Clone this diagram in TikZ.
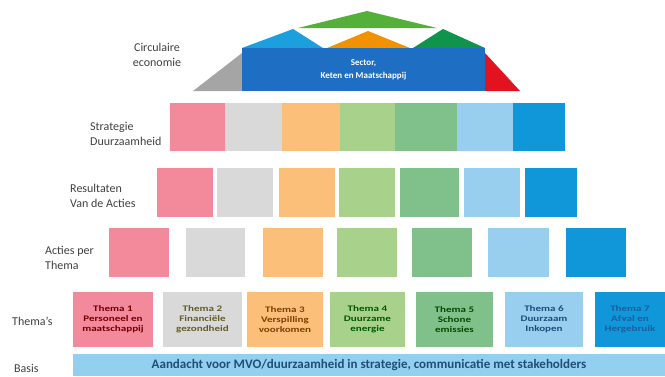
\documentclass[tikz,border=0pt]{standalone}
\usepackage{fontspec}
\setmainfont{Carlito}
\newfontfamily\themafont[FakeStretch=1.3]{Carlito}
\usetikzlibrary{positioning}
\definecolor{hpink}{HTML}{F38A9C}
\definecolor{hgray}{HTML}{D9D9D9}
\definecolor{horange}{HTML}{FBBF7A}
\definecolor{hlgreen}{HTML}{A8D18C}
\definecolor{hgreen}{HTML}{80C08A}
\definecolor{hlblue}{HTML}{98CFEE}
\definecolor{hblue}{HTML}{0F97DA}
\definecolor{hbasis}{HTML}{93CFEE}
\definecolor{hbasistext}{HTML}{1F4E79}
\definecolor{hthemaseven}{HTML}{1C5E9E}
\definecolor{hlabel}{HTML}{404040}
\definecolor{roofgray}{HTML}{A5A5A5}
\definecolor{roofblue}{HTML}{1E6FC4}
\definecolor{roofcyan}{HTML}{1BA0DD}
\definecolor{rooforange}{HTML}{F39200}
\definecolor{roofgreen}{HTML}{55B03A}
\definecolor{roofdgreen}{HTML}{10934A}
\definecolor{roofred}{HTML}{E2131E}
\tikzstyle{rowlabel}=[align=left,anchor=west,text=hlabel,inner sep=0pt,
  font=\fontsize{12}{15}\selectfont]
\tikzstyle{rowbox}=[inner sep=0pt,draw=none]
\tikzstyle{themabox}=[inner sep=0pt,align=center,
  font=\themafont\bfseries\fontsize{8.5}{10}\selectfont]
\tikzstyle{basisbar}=[fill=hbasis,inner sep=0pt,text=hbasistext,
  font=\bfseries\fontsize{13}{15}\selectfont]

\begin{document}
\begin{tikzpicture}[x=1pt,y=-1pt]
    \useasboundingbox (0,0) rectangle (665,376);

    % ---- roof: circulaire economie ----
    \fill[roofgreen]  (298,28) -- (367,11) -- (437,28) -- cycle;
    \fill[roofcyan]   (242,48) -- (293,29) -- (323,48) -- cycle;
    \fill[rooforange] (327,48) -- (368,31) -- (410,48) -- cycle;
    \fill[roofdgreen] (413,48) -- (443,29) -- (485,48) -- cycle;
    \fill[roofgray]   (193,91) -- (242,53) -- (242,91) -- cycle;
    \fill[roofred]    (485,53) -- (520,91) -- (485,91) -- cycle;
    \node[fill=roofblue,inner sep=0pt,minimum width=243,minimum height=43,
          text=white,align=center,font=\bfseries\fontsize{9}{13}\selectfont]
          (sector) at (363.5,69.5) {Sector,\\Keten en Maatschappij};
    \node[rowlabel,anchor=center,align=center] (circ) at (157,55) {Circulaire\\economie};

    % ---- strategie duurzaamheid ----
    \node[rowlabel] (lstrat) at (90,134) {Strategie\\Duurzaamheid};
    \foreach \n/\l/\r/\c in {1/170/225/hpink,2/225/282/hgray,3/282/340/horange,
        4/340/395/hlgreen,5/395/457/hgreen,6/457/513/hlblue,7/513/565/hblue}
      \node[rowbox,fill=\c,minimum width=\r-\l,minimum height=48] (s\n) at ({(\l+\r)/2},127) {};

    % ---- resultaten van de acties ----
    \node[rowlabel] (lres) at (70,196) {Resultaten\\Van de Acties};
    \foreach \n/\l/\r/\c in {1/157/213/hpink,2/217/273/hgray,3/279/335/horange,
        4/339/395/hlgreen,5/400/459/hgreen,6/464/520/hlblue,7/525/577/hblue}
      \node[rowbox,fill=\c,minimum width=\r-\l,minimum height=49] (r\n) at ({(\l+\r)/2},192.5) {};

    % ---- acties per thema ----
    \node[rowlabel] (lact) at (45,258) {Acties per\\Thema};
    \foreach \n/\l/\r/\c in {1/109/169/hpink,2/186/245/hgray,3/263/323/horange,
        4/337/397/hlgreen,5/412/472/hgreen,6/488/549/hlblue,7/566/626/hblue}
      \node[rowbox,fill=\c,minimum width=\r-\l,minimum height=49] (a\n) at ({(\l+\r)/2},252.5) {};

    % ---- thema's ----
    \node[rowlabel] (lthema) at (12,321) {Thema's};
    \node[themabox,fill=hpink,text=red!45!black,minimum width=80,minimum height=55]
        (t1) at (113,319.5) {Thema 1\\Personeel en\\maatschappij};
    \node[themabox,fill=hgray,text=olive!60!black,minimum width=79,minimum height=55]
        (t2) at (202.5,319.5) {Thema 2\\Financiële\\gezondheid};
    \node[themabox,fill=horange,text=orange!50!black,minimum width=76,minimum height=55]
        (t3) at (285,319.5) {Thema 3\\Verspilling\\voorkomen};
    \node[themabox,fill=hlgreen,text=green!35!black,minimum width=75,minimum height=55]
        (t4) at (367.5,319.5) {Thema 4\\Duurzame\\energie};
    \node[themabox,fill=hgreen,text=green!30!black,minimum width=77,minimum height=55]
        (t5) at (454.5,319.5) {Thema 5\\Schone\\emissies};
    \node[themabox,fill=hlblue,text=hbasistext,minimum width=78,minimum height=55]
        (t6) at (544,319.5) {Thema 6\\Duurzaam\\Inkopen};
    \node[themabox,fill=hblue,text=hthemaseven,minimum width=70,minimum height=55]
        (t7) at (630,319.5) {Thema 7\\Afval en\\Hergebruik};

    % ---- basis ----
    \node[rowlabel] (lbasis) at (14,368) {Basis};
    \node[basisbar,minimum width=592,minimum height=22] (basis) at (369,365)
        {Aandacht voor MVO/duurzaamheid in strategie, communicatie met stakeholders};
\end{tikzpicture}
\end{document}
